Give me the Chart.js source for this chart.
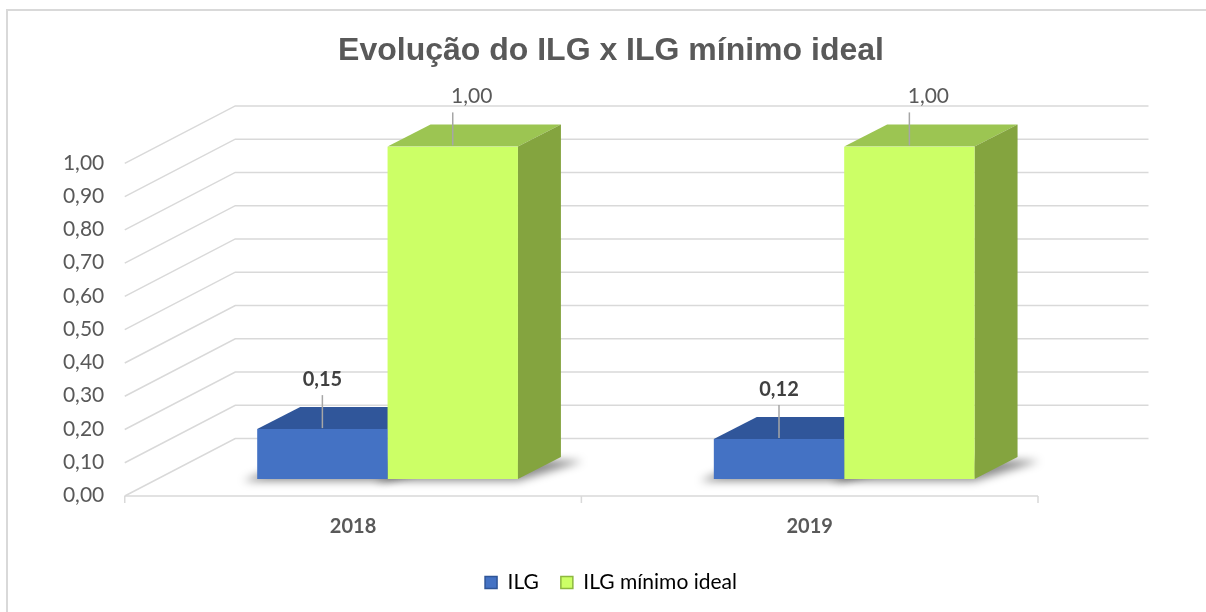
<!DOCTYPE html>
<html lang="pt">
<head>
<meta charset="utf-8">
<title>Evolução do ILG x ILG mínimo ideal</title>
<script src="https://cdn.jsdelivr.net/npm/chart.js@4.4.1/dist/chart.umd.min.js"></script>
<style>
  html, body { margin: 0; padding: 0; background: #fff; overflow: hidden; }
  #wrap { position: relative; width: 1206px; height: 612px; }
  #moldura { position: absolute; left: 6px; top: 9px; width: 1400px; height: 800px;
             border: 2px solid #d9d9d9; box-sizing: border-box; }
  canvas { position: absolute; left: 0; top: 0; }
</style>
</head>
<body>
<div id="wrap">
  <div id="moldura"></div>
  <canvas id="grafico" width="1206" height="612"></canvas>
</div>
<script>
'use strict';

/* Dados */
const anos       = ['2018', '2019'];
const ilg        = [0.15, 0.12];
const ilgMinimo  = [1.00, 1.00];
const eixoY      = { min: 0, max: 1, passo: 0.1 };

/* Aparência do efeito 3D (deslocamentos em px em relação ao plano das barras) */
const PROF = {
  frenteDx: -34.5, frenteDy: 17,    // plano frontal (rótulos do eixo)
  fundoDx: 76,     fundoDy: -40.5,  // parede de fundo
  barraDx: 43,     barraDy: -22,    // profundidade das barras
};
const CORES = [
  { frente: '#4472C4', topo: '#30569A', lado: '#2B4C88', borda: '#2F5597' },
  { frente: '#CCFF66', topo: '#9CC552', lado: '#84A43F', borda: '#8DB83F' },
];
const ROTULOS = [
  { fonte: 'bold 20px Lato', cor: '#404040', dx: 0,  dy: -50 },
  { fonte: '21px Lato',      cor: '#595959', dx: 19, dy: -50 },
];

const fmt = v => v.toFixed(2).replace('.', ',');

/* Grade, sombras e faces laterais/superiores */
const cubo3d = {
  id: 'cubo3d',
  beforeDatasetsDraw(chart) {
    const { ctx, scales: { x, y } } = chart;
    ctx.save();

    /* parede lateral + parede de fundo */
    ctx.strokeStyle = '#d9d9d9';
    ctx.lineWidth = 1.5;
    y.ticks.forEach(t => {
      const py = y.getPixelForValue(t.value);
      ctx.beginPath();
      ctx.moveTo(x.left + PROF.frenteDx, py + PROF.frenteDy);
      ctx.lineTo(x.left + PROF.fundoDx, py + PROF.fundoDy);
      ctx.lineTo(x.right + PROF.fundoDx, py + PROF.fundoDy);
      ctx.stroke();
    });

    /* eixo frontal com marcas */
    const y0 = y.getPixelForValue(0) + PROF.frenteDy;
    ctx.beginPath();
    ctx.moveTo(x.left + PROF.frenteDx, y0);
    ctx.lineTo(x.right + PROF.frenteDx, y0);
    const marcas = [x.left, x.right];
    for (let i = 0; i < anos.length - 1; i++) {
      marcas.push((x.getPixelForValue(i) + x.getPixelForValue(i + 1)) / 2);
    }
    marcas.forEach(mx => {
      ctx.moveTo(mx + PROF.frenteDx, y0);
      ctx.lineTo(mx + PROF.frenteDx, y0 + 7);
    });
    ctx.stroke();

    const barras = [];
    chart.data.datasets.forEach((ds, i) => {
      chart.getDatasetMeta(i).data.forEach(el => {
        const p = el.getProps(['x', 'y', 'base', 'width'], true);
        barras.push({ i, l: p.x - p.width / 2, r: p.x + p.width / 2, top: p.y, base: p.base });
      });
    });

    /* sombra no piso */
    ctx.save();
    ctx.filter = 'blur(4px)';
    ctx.fillStyle = 'rgba(0,0,0,0.45)';
    barras.forEach(b => {
      ctx.beginPath();
      ctx.moveTo(b.l - 14, b.base + 2);
      ctx.lineTo(b.r, b.base + 2);
      ctx.lineTo(b.r + PROF.barraDx + 22, b.base + PROF.barraDy + 4);
      ctx.lineTo(b.l + PROF.barraDx, b.base + PROF.barraDy);
      ctx.closePath();
      ctx.fill();
    });
    ctx.restore();

    /* faces */
    barras.forEach(b => {
      const c = CORES[b.i];
      ctx.fillStyle = c.topo;
      ctx.beginPath();
      ctx.moveTo(b.l, b.top);
      ctx.lineTo(b.r, b.top);
      ctx.lineTo(b.r + PROF.barraDx, b.top + PROF.barraDy);
      ctx.lineTo(b.l + PROF.barraDx, b.top + PROF.barraDy);
      ctx.closePath();
      ctx.fill();
      ctx.fillStyle = c.lado;
      ctx.beginPath();
      ctx.moveTo(b.r, b.top);
      ctx.lineTo(b.r + PROF.barraDx, b.top + PROF.barraDy);
      ctx.lineTo(b.r + PROF.barraDx, b.base + PROF.barraDy);
      ctx.lineTo(b.r, b.base);
      ctx.closePath();
      ctx.fill();
    });
    ctx.restore();
  },

  /* Rótulos de dados com linhas de chamada */
  afterDatasetsDraw(chart) {
    const { ctx } = chart;
    ctx.save();
    chart.data.datasets.forEach((ds, i) => {
      const r = ROTULOS[i];
      chart.getDatasetMeta(i).data.forEach((el, j) => {
        const { x, y } = el.getProps(['x', 'y'], true);
        ctx.strokeStyle = '#a6a6a6';
        ctx.lineWidth = 1.5;
        ctx.beginPath();
        ctx.moveTo(x, y - 1);
        ctx.lineTo(x, y + r.dy + 16);
        ctx.stroke();
        ctx.font = r.fonte;
        ctx.fillStyle = r.cor;
        ctx.textAlign = 'center';
        ctx.textBaseline = 'middle';
        ctx.fillText(fmt(ds.data[j]), x + r.dx, y + r.dy);
      });
    });
    ctx.restore();
  },
};

new Chart(document.getElementById('grafico'), {
  type: 'bar',
  data: {
    labels: anos,
    datasets: [
      { label: 'ILG', data: ilg, backgroundColor: CORES[0].frente },
      { label: 'ILG mínimo ideal', data: ilgMinimo, backgroundColor: CORES[1].frente },
    ],
  },
  options: {
    responsive: false,
    animation: false,
    events: [],
    datasets: { bar: { categoryPercentage: 0.571, barPercentage: 1, borderWidth: 0 } },
    layout: { padding: { left: 16, right: 0, top: 15, bottom: 9 } },
    plugins: {
      title: {
        display: true,
        text: 'Evolução do ILG x ILG mínimo ideal',
        color: '#595959',
        font: { family: '"Liberation Sans", Arial, sans-serif', size: 32, weight: 'bold' },
        padding: { top: 17, bottom: 76 },
      },
      legend: {
        position: 'bottom',
        labels: {
          color: '#595959',
          font: { family: 'Lato', size: 21 },
          boxWidth: 12,
          boxHeight: 12,
          padding: 22,
          generateLabels: chart => chart.data.datasets.map((ds, i) => ({
            text: ds.label,
            fillStyle: CORES[i].frente,
            strokeStyle: CORES[i].borda,
            lineWidth: 1.5,
            hidden: false,
            datasetIndex: i,
          })),
        },
      },
      tooltip: { enabled: false },
    },
    scales: {
      x: {
        grid: { display: false, drawTicks: false },
        border: { display: false },
        afterFit: s => { s.height = 71; },
        ticks: {
          labelOffset: -34.5,
          padding: 36,
          color: '#595959',
          font: { family: 'Lato', size: 20, weight: 'bold' },
        },
      },
      y: {
        min: eixoY.min,
        max: eixoY.max,
        grid: { display: false, drawTicks: false },
        border: { display: false },
        afterFit: s => { s.width = 143.25; },
        ticks: {
          stepSize: eixoY.passo,
          labelOffset: 16.5,
          padding: 55,
          color: '#595959',
          font: { family: 'Lato', size: 21 },
          callback: v => fmt(v),
        },
      },
      /* eixo vazio à direita: reserva a margem sem deslocar título e legenda */
      margem: {
        position: 'right',
        min: 0,
        max: 1,
        grid: { display: false, drawTicks: false },
        border: { display: false },
        ticks: { display: false },
        afterFit: s => { s.width = 133.5; },
      },
    },
  },
  plugins: [cubo3d],
});
</script>
</body>
</html>
